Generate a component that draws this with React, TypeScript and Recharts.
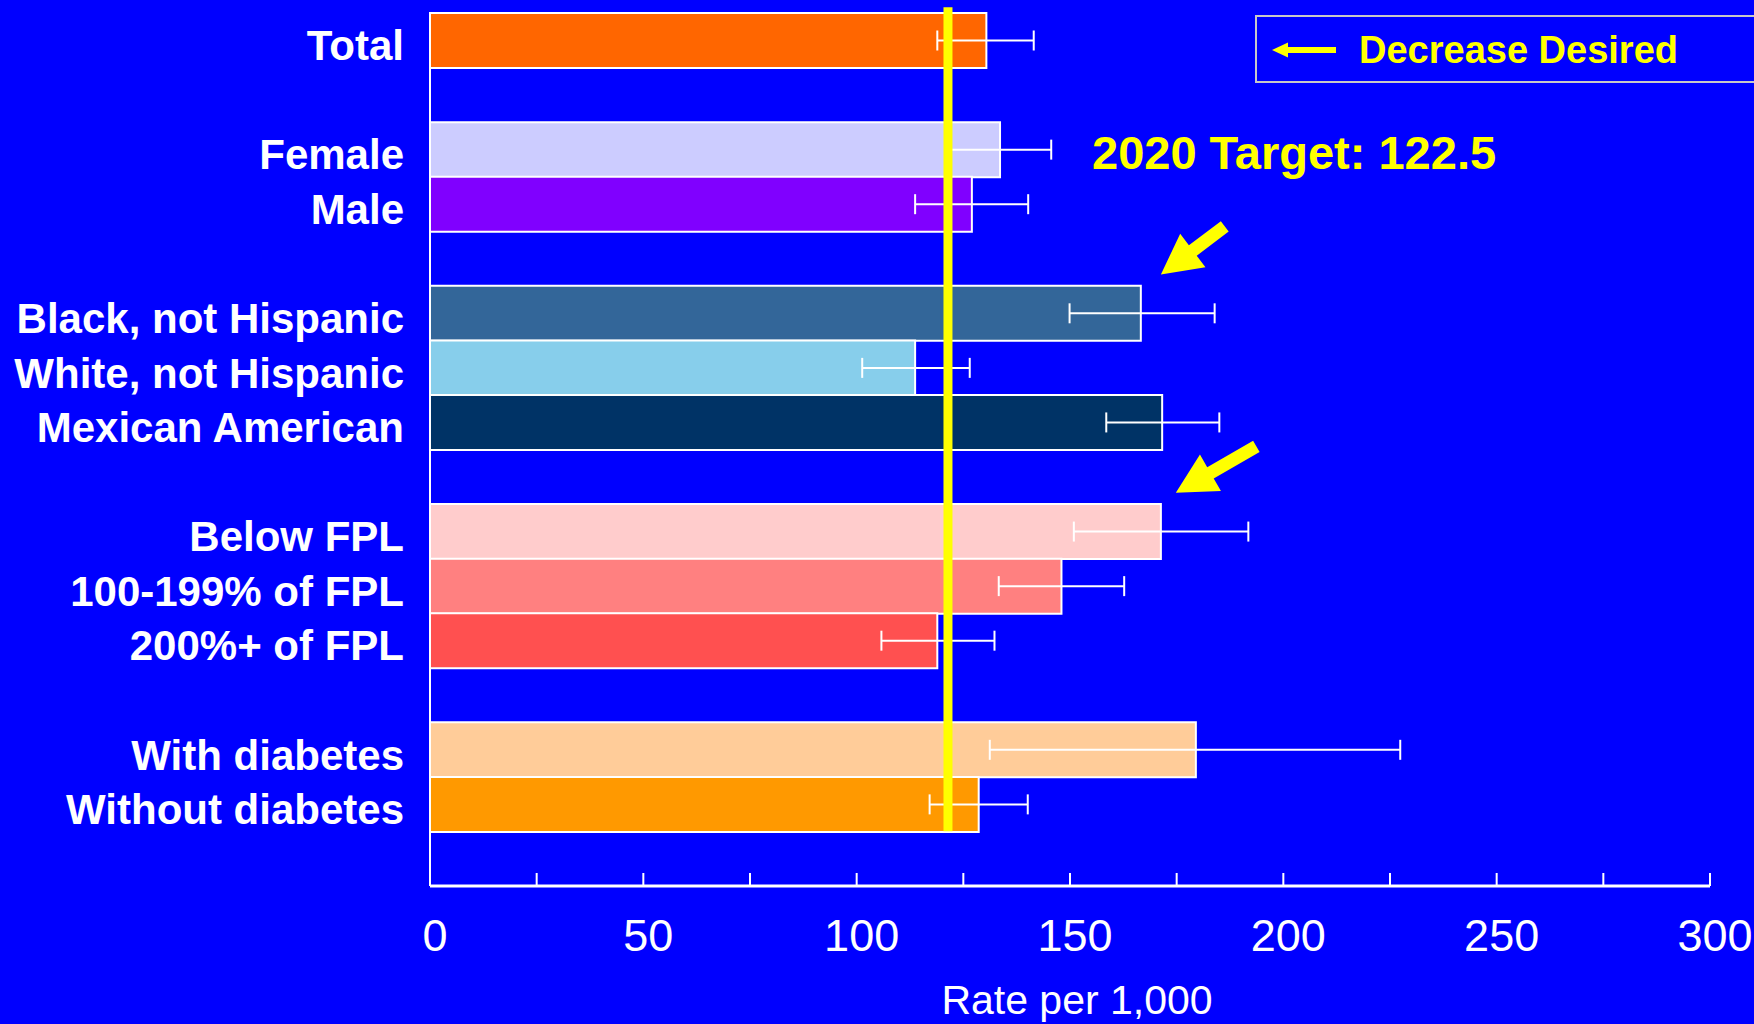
import { Bar, BarChart, Cell, ErrorBar, ReferenceDot, ReferenceLine, XAxis, YAxis } from 'recharts'

// rows, incl. empty spacer rows between groups
const categories = [
  'Total',
  '',
  'Female',
  'Male',
  '',
  'Black, not Hispanic',
  'White, not Hispanic',
  'Mexican American',
  '',
  'Below FPL',
  '100-199% of FPL',
  '200%+ of FPL',
  '',
  'With diabetes',
  'Without diabetes',
  '',
]
const rates = [130.4, null, 133.6, 127.0, null, 166.6, 113.7, 171.6, null, 171.3, 148.0, 118.9, null, 179.5, 128.6, null]
const ciLow = [118.9, null, 121.5, 113.7, null, 149.9, 101.3, 158.5, null, 150.9, 133.3, 105.8, null, 131.2, 117.1, null]
const ciHigh = [141.5, null, 145.6, 140.2, null, 183.9, 126.5, 185.0, null, 191.8, 162.7, 132.3, null, 227.4, 140.1, null]
const barColors = [
  '#FF6600', '', '#CCCCFF', '#8000FF', '', '#336699', '#87CEEB', '#003366', '',
  '#FFCCCC', '#FF8080', '#FF5050', '', '#FFCC99', '#FF9900', '',
]
const xTicks = [0, 25, 50, 75, 100, 125, 150, 175, 200, 225, 250, 275, 300]
const targetValue = 121.4
const targetLabel = '2020 Target: 122.5'
const legendLabel = 'Decrease Desired'
const axisTitle = 'Rate per 1,000'
// highlighted rows (yellow arrows), at the end of the bars below them
const arrowRows = [4, 8]
const arrowXs = [171.3, 174.8]

const FONT = '"Liberation Sans", Arial, sans-serif'
const YELLOW = '#FFFF00'

const rows = categories.map((name, i) => {
  const v = rates[i]
  const lo = ciLow[i]
  const hi = ciHigh[i]
  return {
    id: i,
    name,
    rate: v,
    err: v == null || lo == null || hi == null ? undefined : [v - lo, hi - v],
  }
})

function CategoryTick({ x, y, payload }: any) {
  const label = categories[payload.value]
  if (!label) return <g />
  return (
    <text x={x} y={y + 20} textAnchor="end" fill="#fff" fontSize={42} fontWeight="bold" fontFamily={FONT}>
      {label}
    </text>
  )
}

function RateTick({ x, y, payload }: any) {
  return (
    <g>
      <line x1={x} x2={x} y1={y - 13} y2={y} stroke="#fff" strokeWidth={2} />
      {payload.value % 50 === 0 && (
        <text x={x + 5} y={y + 65} textAnchor="middle" fill="#fff" fontSize={45} fontFamily={FONT}>
          {payload.value}
        </text>
      )}
    </g>
  )
}

// vertical target line: from just above the plot down to the bottom of the last bar
function TargetLine(props: any) {
  const top = Math.min(props.y1, props.y2)
  const bottom = Math.max(props.y1, props.y2)
  return <line x1={props.x1} x2={props.x2} y1={top - 33} y2={bottom + 27} stroke={YELLOW} strokeWidth={9} />
}

function makeArrow(angle: number, length: number) {
  return ({ cx, cy }: any) => {
    const lh = 40
    const wh = 42
    const w = 13
    const pts = [
      [0, 0],
      [-lh, -wh / 2],
      [-lh, -w / 2],
      [-length, -w / 2],
      [-length, w / 2],
      [-lh, w / 2],
      [-lh, wh / 2],
    ]
      .map((p) => p.join(','))
      .join(' ')
    return <polygon points={pts} fill={YELLOW} transform={`translate(${cx},${cy + 16}) rotate(${angle})`} />
  }
}
const arrowShapes = [makeArrow(143, 80), makeArrow(150, 93)]

export default function App() {
  return (
    <div
      style={{
        position: 'absolute',
        left: 0,
        top: 0,
        width: 1754,
        height: 1024,
        overflow: 'hidden',
        background: '#0000FF',
      }}
    >
      <BarChart
        width={1754}
        height={1024}
        layout="vertical"
        data={rows}
        margin={{ top: 13, right: 44, bottom: 0, left: 0 }}
        barCategoryGap={0}
        barGap={0}
      >
        <XAxis
          type="number"
          domain={[0, 300]}
          ticks={xTicks}
          interval={0}
          height={138}
          tickLine={false}
          tickSize={0}
          tickMargin={0}
          tick={<RateTick />}
          axisLine={{ stroke: '#fff', strokeWidth: 3 }}
          label={{
            value: axisTitle,
            position: 'insideBottom',
            offset: 10,
            dx: 7,
            fill: '#fff',
            fontSize: 41,
            fontFamily: FONT,
          }}
        />
        <YAxis
          type="category"
          dataKey="id"
          width={430}
          interval={0}
          tickLine={false}
          tickSize={0}
          tickMargin={26}
          tick={<CategoryTick />}
          axisLine={{ stroke: '#fff', strokeWidth: 2 }}
        />
        <Bar dataKey="rate" isAnimationActive={false} stroke="#fff" strokeWidth={2}>
          {rows.map((r, i) => (
            <Cell key={r.id} fill={barColors[i] || 'none'} />
          ))}
          <ErrorBar dataKey="err" direction="x" width={10} stroke="#fff" strokeWidth={2} isAnimationActive={false} />
        </Bar>
        <ReferenceLine
          segment={[
            { x: targetValue, y: 0 },
            { x: targetValue, y: 14 },
          ]}
          ifOverflow="visible"
          shape={TargetLine}
        />
        {arrowRows.map((row, i) => (
          <ReferenceDot key={row} x={arrowXs[i]} y={row} ifOverflow="visible" shape={arrowShapes[i]} />
        ))}
      </BarChart>
      <svg
        width={1754}
        height={1024}
        style={{ position: 'absolute', left: 0, top: 0, pointerEvents: 'none' }}
      >
        <text x={1092} y={169} fill={YELLOW} fontSize={47} fontWeight="bold" fontFamily={FONT}>
          {targetLabel}
        </text>
        <rect x={1256} y={16} width={520} height={66} fill="none" stroke="#C8C8C8" strokeWidth={2} />
        <polygon points="1272,50 1288,42.5 1288,57.5" fill={YELLOW} />
        <rect x={1287} y={47} width={49} height={6} fill={YELLOW} />
        <text x={1359} y={63} fill={YELLOW} fontSize={38} fontWeight="bold" fontFamily={FONT}>
          {legendLabel}
        </text>
      </svg>
    </div>
  )
}
